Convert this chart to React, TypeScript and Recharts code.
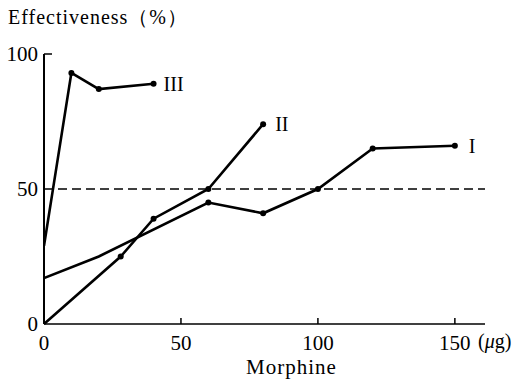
import { LineChart, Line, XAxis, YAxis, ReferenceLine } from "recharts";

const X_TICKS = [0, 50, 100, 150];
const Y_TICKS = [0, 50, 100];

const SERIES_I_X = [0, 20, 60, 80, 100, 120, 150];
const SERIES_I_Y = [17, 25, 45, 41, 50, 65, 66];
const SERIES_I_DOT = [false, false, true, true, true, true, true];

const SERIES_II_X = [0, 28, 40, 60, 80];
const SERIES_II_Y = [0, 25, 39, 50, 74];
const SERIES_II_DOT = [false, true, true, true, true];

const SERIES_III_X = [0, 10, 20, 40];
const SERIES_III_Y = [29, 93, 87, 89];
const SERIES_III_DOT = [false, true, true, true];

const SERIES_NAMES = ["I", "II", "III"];

const FONT = "Liberation Serif";

const toRows = (xs: number[], ys: number[], dots: boolean[]) =>
  xs.map((x, i) => ({ x, y: ys[i], dot: dots[i] }));

const seriesI = toRows(SERIES_I_X, SERIES_I_Y, SERIES_I_DOT);
const seriesII = toRows(SERIES_II_X, SERIES_II_Y, SERIES_II_DOT);
const seriesIII = toRows(SERIES_III_X, SERIES_III_Y, SERIES_III_DOT);

function Dot(props: any) {
  const { cx, cy, payload } = props;
  if (!payload?.dot) return <g />;
  return <circle cx={cx} cy={cy} r={3} fill="#000" />;
}

function endLabel(name: string, count: number, dx: number) {
  return (props: any) => {
    const { x, y, index } = props;
    if (index !== count - 1) return <g />;
    return (
      <text x={x + dx} y={y + 7} fontSize={20} fontFamily={FONT} fill="#000">
        {name}
      </text>
    );
  };
}

function XTick(props: any) {
  const { x, y, payload } = props;
  return (
    <g>
      {payload.value !== 0 ? <line x1={x} y1={y} x2={x} y2={y - 6} stroke="#000" strokeWidth={1.5} /> : null}
      <text x={x} y={y + 26} textAnchor="middle" fontSize={21} fontFamily={FONT} fill="#000">
        {payload.value}
      </text>
    </g>
  );
}

function YTick(props: any) {
  const { x, y, payload } = props;
  return (
    <g>
      {payload.value === 100 ? <line x1={x} y1={y} x2={x + 8} y2={y} stroke="#000" strokeWidth={1.5} /> : null}
      <text x={x - 6} y={y + 7} textAnchor="end" fontSize={21} fontFamily={FONT} fill="#000">
        {payload.value}
      </text>
    </g>
  );
}

export default function App() {
  return (
    <div style={{ position: "relative", width: 531, height: 380, background: "#fff", fontFamily: FONT }}>
      <style>{`body{margin:0}`}</style>
      <LineChart width={531} height={380} margin={{ top: 54, right: 46, bottom: 0, left: 0 }}>
        <XAxis
          type="number"
          dataKey="x"
          domain={[0, 161]}
          ticks={X_TICKS}
          height={56}
          tickSize={0}
          tickMargin={0}
          tick={<XTick />}
          axisLine={{ stroke: "#000", strokeWidth: 1.5 }}
          allowDataOverflow
        />
        <YAxis
          type="number"
          dataKey="y"
          domain={[0, 100]}
          ticks={Y_TICKS}
          width={44}
          tickSize={0}
          tickMargin={0}
          tick={<YTick />}
          axisLine={{ stroke: "#000", strokeWidth: 2 }}
        />
        <ReferenceLine y={50} stroke="#000" strokeWidth={1.3} strokeDasharray="9 5" />
        <Line
          data={seriesI}
          dataKey="y"
          stroke="#000"
          strokeWidth={2.6}
          dot={<Dot />}
          activeDot={false}
          isAnimationActive={false}
          label={endLabel(SERIES_NAMES[0], seriesI.length, 14)}
        />
        <Line
          data={seriesII}
          dataKey="y"
          stroke="#000"
          strokeWidth={2.6}
          dot={<Dot />}
          activeDot={false}
          isAnimationActive={false}
          label={endLabel(SERIES_NAMES[1], seriesII.length, 12)}
        />
        <Line
          data={seriesIII}
          dataKey="y"
          stroke="#000"
          strokeWidth={2.6}
          dot={<Dot />}
          activeDot={false}
          isAnimationActive={false}
          label={endLabel(SERIES_NAMES[2], seriesIII.length, 10)}
        />
      </LineChart>
      <div style={{ position: "absolute", left: 8, top: 4, fontSize: 20, letterSpacing: 1 }}>
        Effectiveness（%）
      </div>
      <div style={{ position: "absolute", left: 478, top: 330, fontSize: 20, whiteSpace: "nowrap" }}>
        (<i>μ</i>g)
      </div>
      <div style={{ position: "absolute", left: 246, top: 355, fontSize: 21, letterSpacing: 1 }}>
        Morphine
      </div>
    </div>
  );
}
